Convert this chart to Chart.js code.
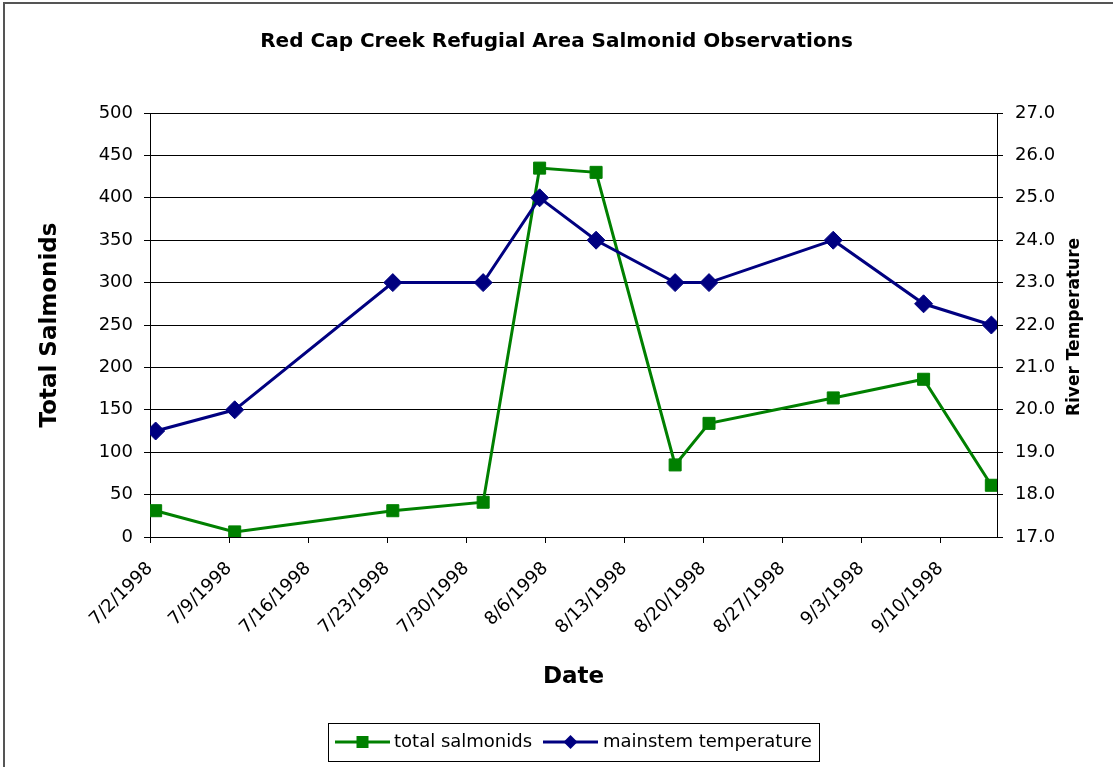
<!DOCTYPE html>
<html>
<head>
	<title>Red Cap Creek Refugial Area Salmonid Observations</title>
	<style>
		body { margin: 0; background: #fff; }
	</style>
</head>
<body>
	<canvas id="salmonChart" width="1113" height="767"></canvas>

	<script src="https://cdn.jsdelivr.net/npm/chart.js@4/dist/chart.umd.min.js"></script>
	<script type="text/javascript">

		// observation dates and values
		var sampleDates = ['7/2/1998', '7/9/1998', '7/23/1998', '7/31/1998', '8/5/1998', '8/10/1998',
			'8/17/1998', '8/20/1998', '8/31/1998', '9/8/1998', '9/14/1998'];
		var totalSalmonids = [31, 6, 31, 41, 435, 430, 85, 134, 164, 186, 61];
		var mainstemTemp = [19.5, 20.0, 23.0, 23.0, 25.0, 24.0, 23.0, 23.0, 24.0, 22.5, 22.0];

		// date axis range, ticks every 7 days
		var axisStart = '7/2/1998';
		var axisEnd = '9/15/1998';
		var tickDays = 7;

		// temperature axis range
		var tempMin = 17, tempMax = 27;
		var countMax = 500;

		var DAY = 86400000;

		function toMs(str) {
			var p = str.split('/');
			return Date.UTC(+p[2], +p[0] - 1, +p[1]);
		}

		function dayNum(str) {
			return (toMs(str) - toMs(axisStart)) / DAY;
		}

		function dayLabel(n) {
			var d = new Date(toMs(axisStart) + n * DAY);
			return (d.getUTCMonth() + 1) + '/' + d.getUTCDate() + '/' + d.getUTCFullYear();
		}

		// excel puts a point in the middle of its day slot
		function makePoints(values) {
			var pts = [];
			for (var i = 0; i < values.length; i++) {
				pts.push({ x: dayNum(sampleDates[i]) + 0.5, y: values[i] });
			}
			return pts;
		}

		var green = '#008000';
		var navy = '#000080';

		// frame, right axis title and legend box drawn on canvas
		var extras = {
			id: 'extras',
			afterDraw: function (chart) {
				var ctx = chart.ctx;
				var area = chart.chartArea;
				ctx.save();

				// outer frame (only left and top show)
				ctx.strokeStyle = '#555';
				ctx.lineWidth = 2;
				ctx.beginPath();
				ctx.moveTo(4, chart.height);
				ctx.lineTo(4, 3);
				ctx.lineTo(chart.width, 3);
				ctx.stroke();

				// right axis title, reads bottom to top
				ctx.fillStyle = '#000';
				ctx.font = 'bold 17px "DejaVu Sans"';
				ctx.textAlign = 'center';
				ctx.textBaseline = 'middle';
				ctx.translate(1075, (area.top + area.bottom) / 2 + 2);
				ctx.rotate(-Math.PI / 2);
				ctx.fillText('River Temperature', 0, 0);
				ctx.setTransform(1, 0, 0, 1, 0, 0);

				// legend
				ctx.strokeStyle = '#000';
				ctx.lineWidth = 1;
				ctx.strokeRect(328.5, 723.5, 491, 38);

				var ly = 742;
				var items = [
					{ ds: chart.data.datasets[0], x0: 335, x1: 390, tx: 394 },
					{ ds: chart.data.datasets[1], x0: 543, x1: 598, tx: 603 }
				];
				items.forEach(function (it) {
					ctx.strokeStyle = it.ds.borderColor;
					ctx.lineWidth = 3;
					ctx.beginPath();
					ctx.moveTo(it.x0, ly);
					ctx.lineTo(it.x1, ly);
					ctx.stroke();
					var cx = (it.x0 + it.x1) / 2;
					ctx.fillStyle = it.ds.borderColor;
					ctx.beginPath();
					if (it.ds.pointStyle === 'rect') {
						ctx.rect(cx - 6, ly - 6, 12, 12);
					} else {
						ctx.moveTo(cx, ly - 7);
						ctx.lineTo(cx + 7, ly);
						ctx.lineTo(cx, ly + 7);
						ctx.lineTo(cx - 7, ly);
						ctx.closePath();
					}
					ctx.fill();
					ctx.fillStyle = '#000';
					ctx.font = '18px "DejaVu Sans"';
					ctx.textAlign = 'left';
					ctx.textBaseline = 'middle';
					ctx.fillText(it.ds.label, it.tx, ly);
				});

				ctx.restore();
			}
		};

		Chart.defaults.font.family = '"DejaVu Sans"';
		Chart.defaults.color = '#000';

		var chart = new Chart('salmonChart', {
			type: 'line',
			data: {
				datasets: [{
					label: 'total salmonids',
					data: makePoints(totalSalmonids),
					yAxisID: 'y',
					borderColor: green,
					backgroundColor: green,
					borderWidth: 3,
					pointStyle: 'rect',
					pointRadius: 8.5,
					pointBorderWidth: 1,
					tension: 0,
					order: 1
				}, {
					label: 'mainstem temperature',
					data: makePoints(mainstemTemp),
					yAxisID: 'y2',
					borderColor: navy,
					backgroundColor: navy,
					borderWidth: 3,
					pointStyle: 'rectRot',
					pointRadius: 9,
					pointBorderWidth: 1,
					tension: 0,
					order: 0
				}]
			},
			options: {
				responsive: false,
				devicePixelRatio: 1,
				animation: false,
				layout: { padding: 0 },
				plugins: {
					legend: { display: false },
					tooltip: { enabled: false },
					title: {
						display: true,
						text: 'Red Cap Creek Refugial Area Salmonid Observations',
						font: { size: 20, weight: 'bold' },
						color: '#000',
						padding: { top: 30, bottom: 59 }
					}
				},
				scales: {
					x: {
						type: 'linear',
						min: 0,
						max: dayNum(axisEnd),
						afterFit: function (s) { s.height = 230; },
						border: { color: '#000', width: 1 },
						grid: { drawOnChartArea: false, drawTicks: true, tickLength: 6, tickColor: '#000' },
						ticks: {
							stepSize: tickDays,
							includeBounds: false,
							autoSkip: false,
							maxRotation: 45,
							minRotation: 45,
							padding: 15,
							font: { size: 18 },
							callback: function (v) { return dayLabel(v); }
						},
						title: {
							display: true,
							text: 'Date',
							font: { size: 23, weight: 'bold' },
							padding: { top: 0, bottom: 76 }
						}
					},
					y: {
						position: 'left',
						min: 0,
						max: countMax,
						afterFit: function (s) { s.width = 150; },
						border: { color: '#000', width: 1 },
						grid: { color: '#000', lineWidth: 1, tickLength: 6, tickColor: '#000' },
						ticks: { stepSize: 50, padding: 11, font: { size: 18 } },
						title: {
							display: true,
							text: 'Total Salmonids',
							font: { size: 23, weight: 'bold' },
							padding: { top: 36, bottom: 0 }
						}
					},
					y2: {
						position: 'right',
						min: tempMin,
						max: tempMax,
						afterFit: function (s) { s.width = 116; },
						border: { color: '#000', width: 1 },
						grid: { drawOnChartArea: false, tickLength: 6, tickColor: '#000' },
						ticks: {
							stepSize: 1,
							padding: 12,
							font: { size: 18 },
							callback: function (v) { return v.toFixed(1); }
						}
					}
				}
			},
			plugins: [extras]
		});

	</script>
</body>
</html>
